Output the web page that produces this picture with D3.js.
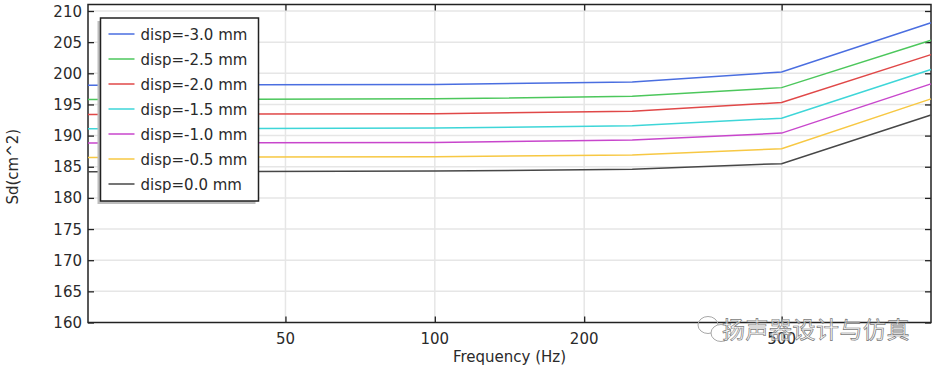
<!DOCTYPE html>
<html>
<head>
<meta charset="utf-8">
<script src="https://cdn.jsdelivr.net/npm/d3@7"></script>
<style>
  body { margin: 0; background: #fff; }
  svg { display: block; font-family: "DejaVu Sans", sans-serif; }
</style>
</head>
<body>
<div class="js-chart"></div>
<script>
let w = 937;
let h = 370;

// frequencies (Hz) where the sweep was sampled
let freqs = [20, 100, 250, 500, 1000];

let seriesNames = ['disp=-3.0 mm', 'disp=-2.5 mm', 'disp=-2.0 mm', 'disp=-1.5 mm',
                   'disp=-1.0 mm', 'disp=-0.5 mm', 'disp=0.0 mm'];
let seriesColors = ['#4a6ee0', '#4cc75c', '#e04848', '#3ed6d8', '#c846cc', '#f7c843', '#474747'];

let sdM30 = [198.1, 198.2, 198.6, 200.2, 208.1];
let sdM25 = [195.8, 195.9, 196.3, 197.7, 205.3];
let sdM20 = [193.4, 193.5, 193.9, 195.3, 203.0];
let sdM15 = [191.1, 191.2, 191.6, 192.8, 200.6];
let sdM10 = [188.8, 188.9, 189.3, 190.4, 198.3];
let sdM05 = [186.5, 186.6, 186.9, 187.9, 195.9];
let sd00  = [184.2, 184.3, 184.6, 185.5, 193.3];
let seriesValues = [sdM30, sdM25, sdM20, sdM15, sdM10, sdM05, sd00];

let xTicks = [50, 100, 200, 500];
let yTicks = [160, 165, 170, 175, 180, 185, 190, 195, 200, 205, 210];

let plotLeft = 88, plotRight = 931, plotTop = 4.5, plotBottom = 322.5;

let x = d3.scaleLog().domain([20, 1000]).range([plotLeft, plotRight]);
let y = d3.scaleLinear().domain([160, 210]).range([plotBottom, 11]);

let svg = d3.select('.js-chart').append('svg').attr('width', w).attr('height', h);

// grid
svg.append('g').selectAll('line').data(yTicks.slice(1)).join('line')
  .attr('x1', plotLeft).attr('x2', plotRight)
  .attr('y1', d => y(d)).attr('y2', d => y(d))
  .style('stroke', '#e6e6e6').style('stroke-width', 1.5);
svg.append('g').selectAll('line').data(xTicks).join('line')
  .attr('x1', d => x(d)).attr('x2', d => x(d))
  .attr('y1', plotTop).attr('y2', plotBottom)
  .style('stroke', '#e6e6e6').style('stroke-width', 1.5);

// axes, ticks pointing inward
let axisL = d3.axisRight(y).tickValues(yTicks).tickSize(6).tickFormat('');
let axisR = d3.axisLeft(y).tickValues(yTicks).tickSize(6).tickFormat('');
let axisB = d3.axisTop(x).tickValues(xTicks).tickSize(6).tickFormat('');
let axisT = d3.axisBottom(x).tickValues(xTicks).tickSize(6).tickFormat('');

[[axisL, `translate(${plotLeft},0)`], [axisR, `translate(${plotRight},0)`],
 [axisB, `translate(0,${plotBottom})`], [axisT, `translate(0,${plotTop})`]].forEach(a => {
  let g = svg.append('g').attr('transform', a[1]).call(a[0]);
  g.select('.domain').remove();
  g.selectAll('line').style('stroke', '#222').style('stroke-width', 1.3);
});

svg.append('rect')
  .attr('x', plotLeft).attr('y', plotTop)
  .attr('width', plotRight - plotLeft).attr('height', plotBottom - plotTop)
  .style('fill', 'none').style('stroke', '#222').style('stroke-width', 1.5);

// tick labels
svg.append('g').selectAll('text').data(yTicks).join('text')
  .attr('x', plotLeft - 6).attr('y', d => y(d) + 5.5)
  .attr('text-anchor', 'end').style('font-size', '15px').style('fill', '#2a2a2a')
  .text(d => d);
svg.append('g').selectAll('text').data(xTicks).join('text')
  .attr('x', d => x(d)).attr('y', 344)
  .attr('text-anchor', 'middle').style('font-size', '15px').style('fill', '#2a2a2a')
  .text(d => d);

svg.append('text')
  .attr('x', (plotLeft + plotRight) / 2).attr('y', 362)
  .attr('text-anchor', 'middle').style('font-size', '15px').style('fill', '#2a2a2a')
  .text('Frequency (Hz)');
svg.append('text')
  .attr('transform', `translate(18,${(plotBottom + 11) / 2}) rotate(-90)`)
  .attr('text-anchor', 'middle').style('font-size', '15px').style('fill', '#2a2a2a')
  .text('Sd(cm^2)');

// curves
let line = d3.line().x((d, i) => x(freqs[i])).y(d => y(d));
svg.append('g').selectAll('path').data(seriesValues).join('path')
  .attr('d', d => line(d))
  .style('fill', 'none')
  .style('stroke', (d, i) => seriesColors[i])
  .style('stroke-width', 1.5);

// legend
let lx = 100.5, ly = 18, lw = 158, lh = 183;
svg.append('rect').attr('x', lx - 3).attr('y', ly + 3).attr('width', lw).attr('height', lh)
  .style('fill', '#bdbdbd');
svg.append('rect').attr('x', lx).attr('y', ly).attr('width', lw).attr('height', lh)
  .style('fill', '#fff').style('stroke', '#222').style('stroke-width', 1.5);

let entries = svg.append('g').selectAll('g').data(seriesNames).join('g')
  .attr('transform', (d, i) => `translate(${lx},${ly + 16 + i * 25})`);
entries.append('line')
  .attr('x1', 8).attr('x2', 34).attr('y1', 0).attr('y2', 0)
  .style('stroke', (d, i) => seriesColors[i]).style('stroke-width', 1.5);
entries.append('text')
  .attr('x', 40).attr('y', 5.5)
  .style('font-size', '15px').style('fill', '#2a2a2a')
  .text(d => d);

// watermark (sits over the 500 label, as in the source image)
let wm = svg.append('g').style('fill', 'none').style('stroke', '#a8a8a8').style('stroke-width', 1);
wm.append('ellipse').attr('cx', 708).attr('cy', 325).attr('rx', 10).attr('ry', 8.5);
wm.append('ellipse').attr('cx', 721).attr('cy', 333).attr('rx', 10).attr('ry', 8.5).style('fill', '#fff');
svg.append('text')
  .attr('x', 722).attr('y', 338)
  .style('font-family', '"Noto Sans CJK SC", sans-serif')
  .style('font-size', '23px')
  .style('fill', '#fff').style('fill-opacity', 0.6)
  .style('stroke', '#7a7a7a').style('stroke-width', 0.7)
  .style('letter-spacing', '0.5px')
  .text('扬声器设计与仿真');
</script>
</body>
</html>
